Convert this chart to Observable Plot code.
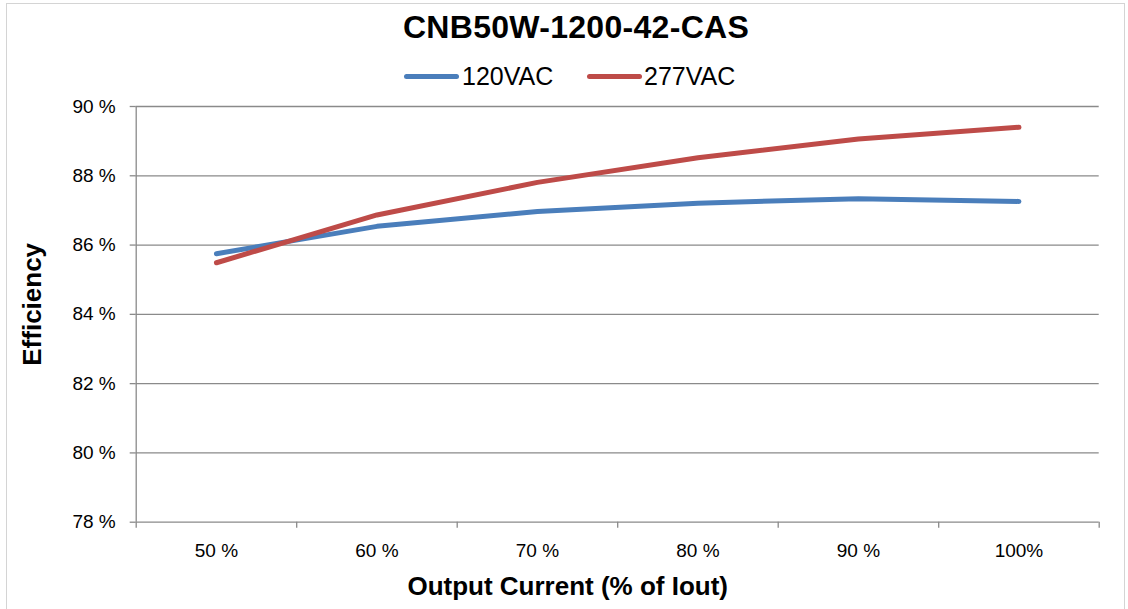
<!DOCTYPE html>
<html>
<head>
<meta charset="utf-8">
<script src="https://cdn.jsdelivr.net/npm/d3@7"></script>
<script src="https://cdn.jsdelivr.net/npm/@observablehq/plot@0.6"></script>
<style>
  html, body { margin: 0; padding: 0; background: #fff; }
  body { font-family: "Liberation Sans", Arial, Helvetica, sans-serif; color: #000; }
  #wrap { position: relative; width: 1128px; height: 609px; overflow: hidden; }
  #border { position: absolute; left: 6px; top: 3px; width: 1119px; height: 640px; border: 1.5px solid #d4d4d4; box-sizing: border-box; }
  #title { position: absolute; left: 576px; top: 11px; transform: translateX(-50%); font-weight: bold; font-size: 32px; line-height: 1; letter-spacing: 0.3px; white-space: nowrap; }
  .leg-line { position: absolute; height: 5px; border-radius: 3px; top: 74px; }
  .leg-text { position: absolute; top: 64px; font-size: 25px; line-height: 1; white-space: nowrap; }
  #chart { position: absolute; left: 0; top: 0; }
</style>
</head>
<body>
<div id="wrap">
  <div id="border"></div>
  <div id="chart"></div>
  <div id="title"></div>
  <div id="legend"></div>
</div>
<script>
// ---- data ----
const titleText = "CNB50W-1200-42-CAS";
const seriesNames = ["120VAC", "277VAC"];
const seriesColors = ["#4a7ebb", "#be4b48"];
const outputCurrent = [50, 60, 70, 80, 90, 100];          // % of Iout
const eff120 = [85.75, 86.54, 86.97, 87.21, 87.34, 87.26]; // %
const eff277 = [85.49, 86.87, 87.81, 88.52, 89.06, 89.40]; // %
const yTicks = [78, 80, 82, 84, 86, 88, 90];
const yTickLabels = ["78 %", "80 %", "82 %", "84 %", "86 %", "88 %", "90 %"];
const xTickLabels = ["50 %", "60 %", "70 %", "80 %", "90 %", "100%"];
const xBoundaries = [45, 55, 65, 75, 85, 95, 105];
const xTitle = "Output Current (% of Iout)";
const yTitle = "Efficiency";

const rows = [];
outputCurrent.forEach((c, i) => {
  rows.push({ current: c, eff: eff120[i], series: seriesNames[0] });
  rows.push({ current: c, eff: eff277[i], series: seriesNames[1] });
});

// ---- title & legend ----
document.getElementById("title").textContent = titleText;
const legend = document.getElementById("legend");
const legPos = [{ line: 404, text: 462 }, { line: 587, text: 644 }];
seriesNames.forEach((name, i) => {
  const l = document.createElement("div");
  l.className = "leg-line";
  l.style.left = legPos[i].line + "px";
  l.style.width = "55px";
  l.style.background = seriesColors[i];
  legend.appendChild(l);
  const t = document.createElement("div");
  t.className = "leg-text";
  t.style.left = legPos[i].text + "px";
  t.textContent = name;
  legend.appendChild(t);
});

// ---- chart ----
const grid = "#8a8a8a";
const chart = Plot.plot({
  width: 1128,
  height: 609,
  marginLeft: 135.7,
  marginRight: 29.3,
  marginTop: 106,
  marginBottom: 87.3,
  style: { fontFamily: "Liberation Sans, Arial, sans-serif", color: "#000", background: "transparent", overflow: "visible" },
  x: { domain: [45, 105], axis: null },
  y: { domain: [78, 90], axis: null },
  color: { domain: seriesNames, range: seriesColors },
  marks: [
    Plot.gridY(yTicks, { stroke: grid, strokeOpacity: 1, strokeWidth: 1.3 }),
    Plot.ruleX([45], { stroke: grid, strokeWidth: 1.3 }),
    Plot.axisY({ ticks: yTicks, tickSize: 6, tickFormat: () => "", label: null, stroke: grid, strokeWidth: 1.3 }),
    Plot.axisY({ ticks: yTicks, tickSize: 0, tickPadding: 20.5, fontSize: 19, fill: "#000", label: null,
                 tickFormat: (d) => yTickLabels[yTicks.indexOf(d)] }),
    Plot.axisX({ ticks: xBoundaries, tickSize: 6, tickFormat: () => "", label: null, stroke: grid, strokeWidth: 1.3 }),
    Plot.axisX({ ticks: outputCurrent, tickSize: 0, tickPadding: 21, fontSize: 19, fill: "#000", label: null,
                 tickFormat: (d) => xTickLabels[outputCurrent.indexOf(d)] }),
    Plot.line(rows, { x: "current", y: "eff", z: "series", stroke: "series",
                      strokeWidth: 5, strokeLinecap: "round", strokeLinejoin: "round" }),
    Plot.text([xTitle], { frameAnchor: "bottom", text: (d) => d, dx: -50, dy: 64, lineAnchor: "middle",
                          fontSize: 26, fontWeight: "bold", fill: "#000", style: "letter-spacing:0.3px" }),
    Plot.text([yTitle], { frameAnchor: "left", text: (d) => d, rotate: -90, dx: -104, dy: -10,
                          textAnchor: "middle", lineAnchor: "middle",
                          fontSize: 26, fontWeight: "bold", fill: "#000" })
  ]
});
document.getElementById("chart").appendChild(chart);
</script>
</body>
</html>
